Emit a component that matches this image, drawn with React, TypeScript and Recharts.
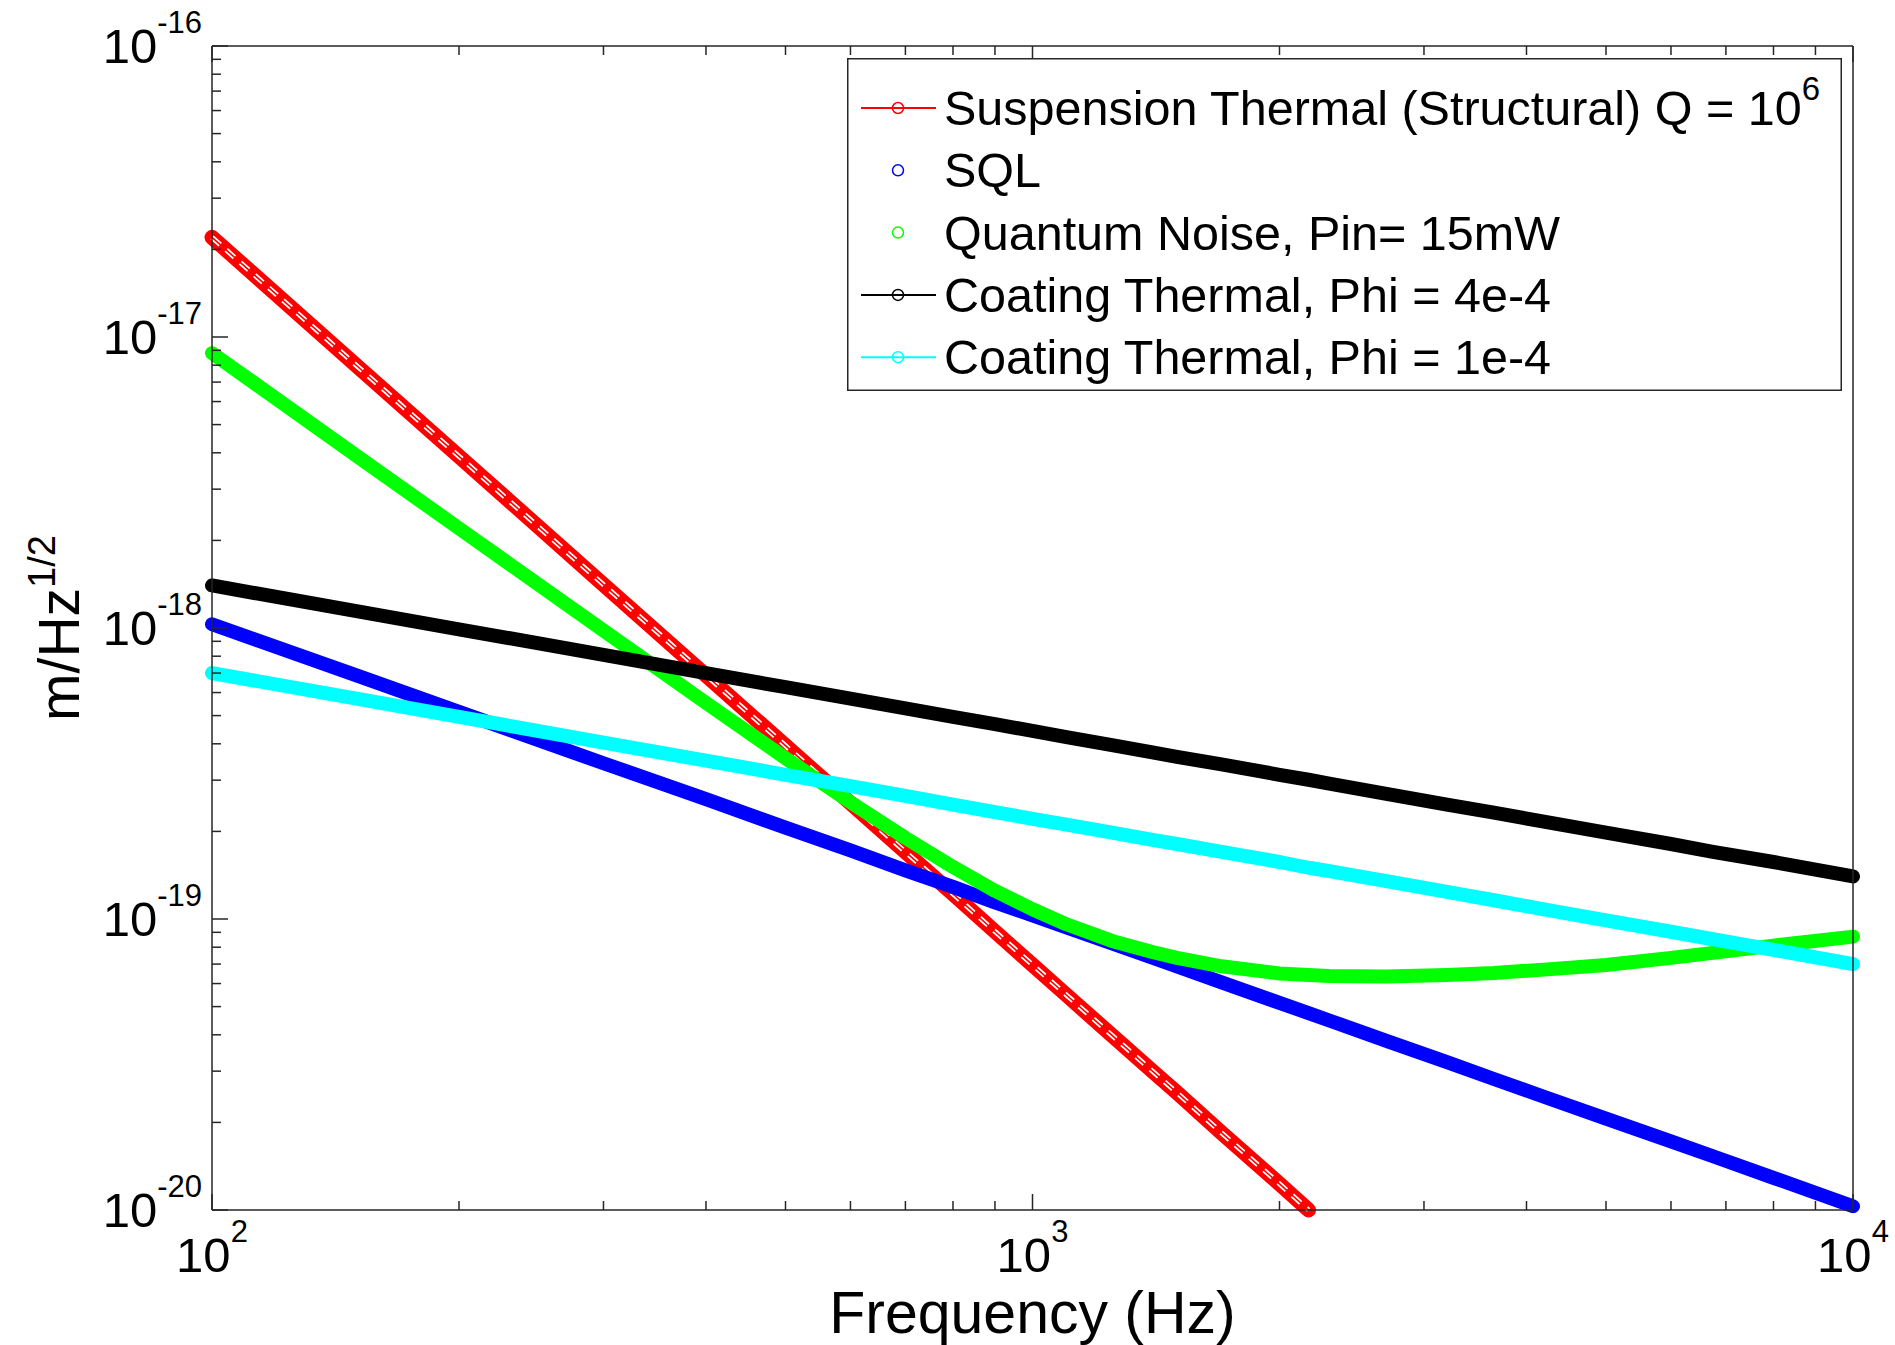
import React from 'react';
import { LineChart, Line, XAxis, YAxis, Legend } from 'recharts';

const freqs = [100, 150, 200, 300, 400, 500, 600, 700, 800, 900, 1000, 1100, 1250, 1400, 1500, 1700, 2000, 2170, 2300, 2700, 3200, 3650, 4200, 5000, 6000, 6750, 8000, 10000];

// Series values (m/Hz^1/2)
const suspensionThermal = [2.2e-17, 7.98e-18, 3.89e-18, 1.41e-18, 6.88e-19, 3.94e-19, 2.5e-19, 1.7e-19, 1.22e-19, 9.06e-20, 6.96e-20, 5.48e-20, 3.98e-20, 3.0e-20, 2.53e-20, 1.84e-20, 1.23e-20, 1.0e-20, null, null, null, null, null, null, null, null, null, null];
const sqlNoise = [1.03e-18, 6.87e-19, 5.15e-19, 3.43e-19, 2.58e-19, 2.06e-19, 1.72e-19, 1.47e-19, 1.29e-19, 1.14e-19, 1.03e-19, 9.36e-20, 8.24e-20, 7.36e-20, 6.87e-20, 6.06e-20, 5.15e-20, 4.75e-20, 4.48e-20, 3.81e-20, 3.22e-20, 2.82e-20, 2.45e-20, 2.06e-20, 1.72e-20, 1.53e-20, 1.29e-20, 1.03e-20];
const quantumNoise = [8.8e-18, 3.91e-18, 2.2e-18, 9.8e-19, 5.53e-19, 3.57e-19, 2.52e-19, 1.9e-19, 1.51e-19, 1.25e-19, 1.08e-19, 9.59e-20, 8.41e-20, 7.7e-20, 7.35e-20, 6.88e-20, 6.5e-20, 6.42e-20, 6.37e-20, 6.35e-20, 6.42e-20, 6.52e-20, 6.7e-20, 6.95e-20, 7.35e-20, 7.65e-20, 8.1e-20, 8.7e-20];
const coating4e4 = [1.4e-18, 1.143e-18, 9.9e-19, 8.08e-19, 7.0e-19, 6.26e-19, 5.72e-19, 5.29e-19, 4.95e-19, 4.67e-19, 4.43e-19, 4.22e-19, 3.96e-19, 3.74e-19, 3.61e-19, 3.4e-19, 3.13e-19, 3.01e-19, 2.92e-19, 2.69e-19, 2.47e-19, 2.32e-19, 2.16e-19, 1.98e-19, 1.81e-19, 1.7e-19, 1.57e-19, 1.4e-19];
const coating1e4 = [7.0e-19, 5.72e-19, 4.95e-19, 4.04e-19, 3.5e-19, 3.13e-19, 2.86e-19, 2.65e-19, 2.47e-19, 2.33e-19, 2.21e-19, 2.11e-19, 1.98e-19, 1.87e-19, 1.81e-19, 1.7e-19, 1.57e-19, 1.5e-19, 1.46e-19, 1.35e-19, 1.24e-19, 1.16e-19, 1.08e-19, 9.9e-20, 9.04e-20, 8.52e-20, 7.83e-20, 7.0e-20];

// Tick values
const xTicks = [100, 200, 300, 400, 500, 600, 700, 800, 900, 1000, 2000, 3000, 4000, 5000, 6000, 7000, 8000, 9000, 10000];
const yTicks = [1e-20, 2e-20, 3e-20, 4e-20, 5e-20, 6e-20, 7e-20, 8e-20, 9e-20, 1e-19, 2e-19, 3e-19, 4e-19, 5e-19, 6e-19, 7e-19, 8e-19, 9e-19, 1e-18, 2e-18, 3e-18, 4e-18, 5e-18, 6e-18, 7e-18, 8e-18, 9e-18, 1e-17, 2e-17, 3e-17, 4e-17, 5e-17, 6e-17, 7e-17, 8e-17, 9e-17, 1e-16];

// Legend
const legendLabels = ['Suspension Thermal (Structural) Q = 10', 'SQL', 'Quantum Noise, Pin= 15mW', 'Coating Thermal, Phi = 4e-4', 'Coating Thermal, Phi = 1e-4'];
const legendSup = ['6', '', '', '', ''];
const seriesColors = ['#FF0000', '#0000FF', '#00FF00', '#000000', '#00FFFF'];
const legendHasLine = [true, false, false, true, true];

const data = freqs.map((f, i) => ({
  f,
  susp: suspensionThermal[i],
  sql: sqlNoise[i],
  qn: quantumNoise[i],
  ct4: coating4e4[i],
  ct1: coating1e4[i],
}));

const FONT = '"Liberation Sans", Arial, Helvetica, sans-serif';
const AXIS = '#262626';
const MAJOR = 16;
const MINOR = 9;
const BAND = 14;

const isMajor = (v: number) => {
  const l = Math.log10(v);
  return Math.abs(l - Math.round(l)) < 1e-6;
};

const BottomTick = (props: any) => {
  const { x, y, payload } = props;
  const v = payload.value;
  const major = isMajor(v);
  const exp = Math.round(Math.log10(v));
  return (
    <g>
      <line x1={x} y1={y} x2={x} y2={y - (major ? MAJOR : MINOR)} stroke={AXIS} strokeWidth={1.5} />
      {major && (
        <text x={x} y={y + 62} textAnchor="middle" fontFamily={FONT} fontSize={49} fill="#000">
          10<tspan dy={-30} fontSize={31}>{String(exp)}</tspan>
        </text>
      )}
    </g>
  );
};

const TopTick = (props: any) => {
  const { x, y, payload } = props;
  const major = isMajor(payload.value);
  return <line x1={x} y1={y} x2={x} y2={y + (major ? MAJOR : MINOR)} stroke={AXIS} strokeWidth={1.5} />;
};

const LeftTick = (props: any) => {
  const { x, y, payload } = props;
  const v = payload.value;
  const major = isMajor(v);
  const exp = Math.round(Math.log10(v));
  return (
    <g>
      <line x1={x} y1={y} x2={x + (major ? MAJOR : MINOR)} y2={y} stroke={AXIS} strokeWidth={1.5} />
      {major && (
        <text x={x - 10} y={y + 17} textAnchor="end" fontFamily={FONT} fontSize={49} fill="#000">
          10<tspan dy={-30} fontSize={31}>{String(exp)}</tspan>
        </text>
      )}
    </g>
  );
};

const RightTick = (props: any) => {
  const { x, y, payload } = props;
  const major = isMajor(payload.value);
  return <line x1={x} y1={y} x2={x - (major ? MAJOR : MINOR)} y2={y} stroke={AXIS} strokeWidth={1.5} />;
};

const XTitle = (props: any) => {
  const vb = props.viewBox || { x: 212, y: 1210, width: 1641, height: 135 };
  return (
    <text x={vb.x + vb.width / 2} y={vb.y + 123} textAnchor="middle" fontFamily={FONT} fontSize={59} fill="#000">
      Frequency (Hz)
    </text>
  );
};

const YTitle = (props: any) => {
  const vb = props.viewBox || { x: 0, y: 46, width: 212, height: 1164 };
  const cx = vb.x + 79;
  const cy = vb.y + vb.height / 2;
  return (
    <text x={cx} y={cy} textAnchor="middle" fontFamily={FONT} fontSize={57} fill="#000" transform={`rotate(-90, ${cx}, ${cy})`}>
      m/Hz<tspan dy={-24} fontSize={38}>1/2</tspan>
    </text>
  );
};

const LegendBox = () => {
  const w = 995;
  const h = 333;
  return (
    <svg width={w} height={h} style={{ display: 'block' }}>
      <rect x={0.75} y={0.75} width={w - 1.5} height={h - 1.5} fill="#fff" stroke={AXIS} strokeWidth={1.5} />
      {legendLabels.map((lab, i) => {
        const base = 67 + i * 62.3;
        const cy = base - 17;
        return (
          <g key={lab}>
            {legendHasLine[i] && <line x1={14} y1={cy} x2={89} y2={cy} stroke={seriesColors[i]} strokeWidth={2} />}
            <circle cx={51} cy={cy} r={5.5} fill="none" stroke={seriesColors[i]} strokeWidth={1.5} />
            <text x={97} y={base} fontFamily={FONT} fontSize={48.5} fill="#000">
              {lab}
              {legendSup[i] && <tspan dy={-25} fontSize={33}>{legendSup[i]}</tspan>}
            </text>
          </g>
        );
      })}
    </svg>
  );
};

const lineCommon = {
  xAxisId: 'b',
  yAxisId: 'l',
  type: 'linear' as const,
  dot: false,
  activeDot: false,
  isAnimationActive: false,
  strokeLinecap: 'round' as const,
  strokeLinejoin: 'round' as const,
  legendType: 'none' as const,
};

export default function App() {
  return (
    <div style={{ position: 'absolute', left: 0, top: 0, width: 1895, height: 1345, background: '#fff' }}>
      <LineChart width={1895} height={1345} data={data} margin={{ top: 0, right: 0, bottom: 0, left: 0 }}>
        <XAxis
          xAxisId="b"
          dataKey="f"
          type="number"
          scale="log"
          domain={[100, 10000]}
          ticks={xTicks}
          interval={0}
          height={135}
          tickSize={0}
          tickMargin={0}
          tickLine={false}
          tick={<BottomTick />}
          axisLine={{ stroke: AXIS, strokeWidth: 1.5 }}
          label={<XTitle />}
        />
        <XAxis
          xAxisId="t"
          orientation="top"
          dataKey="f"
          type="number"
          scale="log"
          domain={[100, 10000]}
          ticks={xTicks}
          interval={0}
          height={46}
          tickSize={0}
          tickMargin={0}
          tickLine={false}
          tick={<TopTick />}
          axisLine={{ stroke: AXIS, strokeWidth: 1.5 }}
        />
        <YAxis
          yAxisId="l"
          type="number"
          scale="log"
          domain={[1e-20, 1e-16]}
          ticks={yTicks}
          interval={0}
          width={212}
          tickSize={0}
          tickMargin={0}
          tickLine={false}
          tick={<LeftTick />}
          axisLine={{ stroke: AXIS, strokeWidth: 1.5 }}
          label={<YTitle />}
        />
        <YAxis
          yAxisId="r"
          orientation="right"
          type="number"
          scale="log"
          domain={[1e-20, 1e-16]}
          ticks={yTicks}
          interval={0}
          width={42}
          tickSize={0}
          tickMargin={0}
          tickLine={false}
          tick={<RightTick />}
          axisLine={{ stroke: AXIS, strokeWidth: 1.5 }}
        />
        <Line {...lineCommon} dataKey="susp" stroke="#FF0000" strokeWidth={BAND + 1} />
        <Line {...lineCommon} dataKey="susp" stroke="#FFFFFF" strokeWidth={5} strokeDasharray="11 8" strokeLinecap="butt" />
        <Line {...lineCommon} dataKey="susp" stroke="#FF0000" strokeWidth={1.6} />
        <Line {...lineCommon} dataKey="sql" stroke="#0000FF" strokeWidth={BAND} />
        <Line {...lineCommon} dataKey="qn" stroke="#00FF00" strokeWidth={BAND} />
        <Line {...lineCommon} dataKey="ct4" stroke="#000000" strokeWidth={BAND} />
        <Line {...lineCommon} dataKey="ct1" stroke="#00FFFF" strokeWidth={BAND} />
        <Legend
          content={<LegendBox />}
          layout="horizontal"
          verticalAlign="middle"
          align="center"
          wrapperStyle={{ position: 'absolute', left: 847, top: 58, width: 995, height: 333, margin: 0, padding: 0 }}
        />
      </LineChart>
    </div>
  );
}
